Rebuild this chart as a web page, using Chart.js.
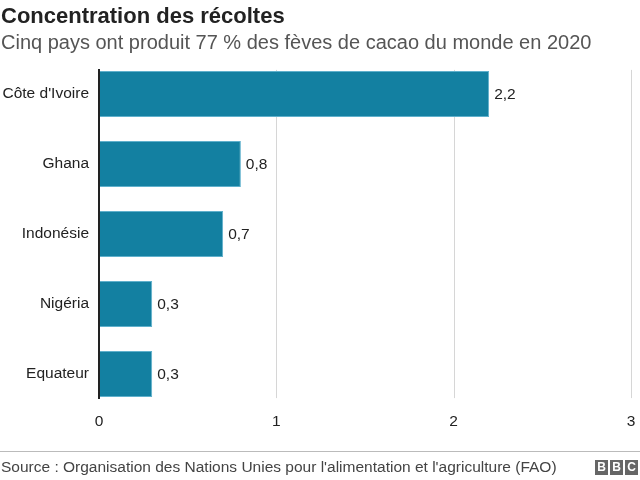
<!DOCTYPE html>
<html>
<head>
<meta charset="utf-8">
<script src="https://cdn.jsdelivr.net/npm/chart.js@4"></script>
<style>
  body { margin:0; background:#fff; font-family:"Liberation Sans", Arial, sans-serif; }
  #wrap { position:relative; width:640px; height:480px; overflow:hidden; }
  #title { position:absolute; left:1px; top:3px; font-size:22px; font-weight:bold; color:#222; }
  #sub { position:absolute; left:1px; top:31px; font-size:20px; color:#555; }
  #chart { position:absolute; left:0; top:0; }
  #rule { position:absolute; left:0; top:451px; width:640px; height:1px; background:#bbb; }
  #src { position:absolute; left:1px; top:458px; font-size:15.5px; color:#444; }
  #bbc { position:absolute; right:2px; top:460px; display:flex; gap:2px; }
  #bbc span { width:13px; height:15px; background:#666; color:#fff; font-size:12px; font-weight:bold; text-align:center; line-height:15px; }
</style>
</head>
<body>
<div id="wrap">
  <canvas id="chart" width="640" height="480"></canvas>
  <div id="title">Concentration des récoltes</div>
  <div id="sub">Cinq pays ont produit 77 % des fèves de cacao du monde en 2020</div>
  <div id="rule"></div>
  <div id="src">Source : Organisation des Nations Unies pour l'alimentation et l'agriculture (FAO)</div>
  <div id="bbc"><span>B</span><span>B</span><span>C</span></div>
</div>
<script>
// pays et production (milliards de kg)
let countries = ["Côte d'Ivoire", "Ghana", "Indonésie", "Nigéria", "Equateur"];
let production = [2.2, 0.8, 0.7, 0.3, 0.3];
let xTicks = [0, 1, 2, 3];


let frNum = v => String(v).replace(".", ",");
let font = "'Liberation Sans', Arial, sans-serif";


// grid lines + black baseline, kept inside the bars' extent
let gridPlugin = {
    id: "grid",
    beforeDatasetsDraw(chart){
        let ctx = chart.ctx;
        let x = chart.scales.x;
        let bars = chart.getDatasetMeta(0).data;
        let top = bars[0].y - bars[0].height / 2 - 1;
        let last = bars[bars.length - 1];
        let bottom = last.y + last.height / 2 + 1;
        ctx.save();
        ctx.strokeStyle = "#d6d6d6";
        ctx.lineWidth = 1;
        xTicks.slice(1).forEach(t => {
            let px = Math.round(x.getPixelForValue(t)) + 0.5;
            ctx.beginPath();
            ctx.moveTo(px, top);
            ctx.lineTo(px, bottom);
            ctx.stroke();
        });
        ctx.restore();
    },
    afterDatasetsDraw(chart){
        let ctx = chart.ctx;
        let x = chart.scales.x;
        let bars = chart.getDatasetMeta(0).data;
        let top = bars[0].y - bars[0].height / 2 - 2;
        let last = bars[bars.length - 1];
        let bottom = last.y + last.height / 2 + 2;
        let px = x.getPixelForValue(0);
        ctx.save();
        ctx.strokeStyle = "#222";
        ctx.lineWidth = 2;
        ctx.beginPath();
        ctx.moveTo(px, top);
        ctx.lineTo(px, bottom);
        ctx.stroke();
        // value labels
        ctx.fillStyle = "#222";
        ctx.font = "15.5px " + font;
        ctx.textBaseline = "middle";
        ctx.textAlign = "left";
        bars.forEach((b, i) => {
            ctx.fillText(frNum(production[i]), b.x + 5, b.y + 1);
        });
        ctx.restore();
    }
};


new Chart(
document.getElementById("chart"),
{
    type: "bar",
    data: {
        labels: countries,
        datasets: [{
            data: production,
            backgroundColor: "#1380A1",
            borderColor: "#5fb0cc",
            borderWidth: 1,
            barPercentage: 0.66,
            categoryPercentage: 1
        }]
    },
    options: {
        indexAxis: "y",
        responsive: false,
        animation: false,
        layout: { padding: { top: 59, right: 9, bottom: 30, left: 0 } },
        plugins: { legend: { display: false }, tooltip: { enabled: false } },
        scales: {
            y: {
                grid: { display: false, drawTicks: false },
                border: { display: false },
                ticks: {
                    color: "#222",
                    padding: 10,
                    font: { family: font, size: 15.5 }
                },
                afterFit: s => { s.width = 99; }
            },
            x: {
                min: 0,
                max: 3,
                grid: { display: false, drawTicks: false },
                border: { display: false },
                afterBuildTicks: s => { s.ticks = xTicks.map(v => ({ value: v })); },
                ticks: {
                    color: "#222",
                    padding: 3,
                    font: { family: font, size: 15.5 },
                    callback: v => frNum(v)
                },
                afterFit: s => { s.height = 41; }
            }
        }
    },
    plugins: [gridPlugin]
});
</script>
</body>
</html>
